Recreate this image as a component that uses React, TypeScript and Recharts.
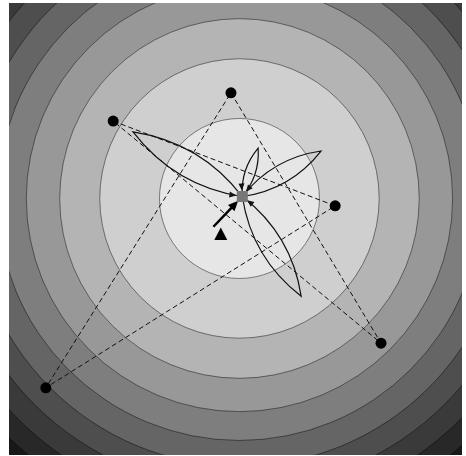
import React from 'react'
import { ScatterChart, Scatter, XAxis, YAxis, ZAxis, Cell, CartesianGrid } from 'recharts'

const X_DOMAIN: [number, number] = [-4, 4]
const Y_DOMAIN: [number, number] = [-4, 4]

// filled contours of f(x, y) = (x - cx)^2 + (y - cy)^2
const CONTOUR_CENTER = { x: 0.07, y: 0.54 }
const CONTOUR_LEVELS = [2.0, 6.1, 10.1, 14.2, 18.3, 22.4, 26.4, 30.5, 34.5]
// inner band first, last one is everything outside the highest level
const BAND_GRAYS = [230, 207, 180, 152, 126, 101, 78, 58, 40, 24]

const SWARM_POINTS = [
  { x: -0.08, y: 2.41 },
  { x: -2.16, y: 1.91 },
  { x: 1.76, y: 0.41 },
  { x: 2.57, y: -2.02 },
  { x: -3.35, y: -2.81 },
]
// order in which the dashed links join the points
const SWARM_LINKS = [0, 3, 1, 2, 4, 0]

const BEST_POINT = { x: 0.12, y: 0.575 }
const PETAL_TIPS = [
  { x: -1.81, y: 1.72 },
  { x: 0.4, y: 1.43 },
  { x: 1.51, y: 1.38 },
  { x: 1.16, y: -1.19 },
]
const STEP_START = { x: -0.39, y: 0.04 }
const START_POINT = { x: -0.26, y: -0.09 }

const WIDTH = 466
const HEIGHT = 456
const MARGIN = { top: 3, right: 4, bottom: 1, left: 9 }
const PLOT_W = WIDTH - MARGIN.left - MARGIN.right
const PLOT_H = HEIGHT - MARGIN.top - MARGIN.bottom
const PX_PER_UNIT =
  (PLOT_W / (X_DOMAIN[1] - X_DOMAIN[0]) + PLOT_H / (Y_DOMAIN[1] - Y_DOMAIN[0])) / 2
const Z_MAX = 40
const PETAL_BEND = 0.2

const gray = (v: number) => `rgb(${v},${v},${v})`

type Pt = { x: number; y: number }

function headPath(tip: Pt, from: Pt, len: number, half: number) {
  const dx = tip.x - from.x
  const dy = tip.y - from.y
  const d = Math.hypot(dx, dy) || 1
  const ux = dx / d
  const uy = dy / d
  const bx = tip.x - ux * len
  const by = tip.y - uy * len
  return `M${tip.x},${tip.y}L${bx - uy * half},${by + ux * half}L${bx + uy * half},${by - ux * half}Z`
}

function backOff(p: Pt, from: Pt, dist: number): Pt {
  const dx = p.x - from.x
  const dy = p.y - from.y
  const d = Math.hypot(dx, dy) || 1
  return { x: p.x - (dx / d) * dist, y: p.y - (dy / d) * dist }
}

function petalLine(props: any) {
  const pts: Pt[] = props.points
  if (!pts || pts.length < 2) return null
  const s = pts[0]
  const t = pts[1]
  const dx = t.x - s.x
  const dy = t.y - s.y
  const mx = (s.x + t.x) / 2
  const my = (s.y + t.y) / 2
  const back = { x: mx + PETAL_BEND * dy, y: my - PETAL_BEND * dx }
  const out = { x: mx - PETAL_BEND * dy, y: my + PETAL_BEND * dx }
  const tip = backOff(s, back, 6)
  return (
    <g>
      <path
        d={`M${s.x},${s.y}Q${out.x},${out.y} ${t.x},${t.y}Q${back.x},${back.y} ${s.x},${s.y}`}
        fill="none"
        stroke="#111"
        strokeWidth={1.2}
      />
      <path d={headPath(tip, back, 7, 3)} fill="#111" />
    </g>
  )
}

function stepLine(props: any) {
  const pts: Pt[] = props.points
  if (!pts || pts.length < 2) return null
  const [a, b] = pts
  const tip = backOff(b, a, 6)
  const base = backOff(tip, a, 8)
  return (
    <g>
      <line x1={a.x} y1={a.y} x2={base.x} y2={base.y} stroke="#000" strokeWidth={2.5} />
      <path d={headPath(tip, a, 10, 4.5)} fill="#000" />
    </g>
  )
}

const noMark = () => <g />

export default function App() {
  const ringData = CONTOUR_LEVELS.map((level, i) => ({ ...CONTOUR_CENTER, level, band: i })).reverse()
  const linkData = SWARM_LINKS.map(i => SWARM_POINTS[i])

  return (
    <div style={{ width: WIDTH, height: HEIGHT }}>
      <style>{'body{margin:0}'}</style>
      <ScatterChart width={WIDTH} height={HEIGHT} margin={MARGIN}>
        <CartesianGrid
          horizontal={false}
          vertical={false}
          fill={gray(BAND_GRAYS[BAND_GRAYS.length - 1])}
          stroke="none"
        />
        <XAxis type="number" dataKey="x" domain={X_DOMAIN} allowDataOverflow hide />
        <YAxis type="number" dataKey="y" domain={Y_DOMAIN} allowDataOverflow hide />
        <ZAxis
          zAxisId="lvl"
          type="number"
          dataKey="level"
          domain={[0, Z_MAX]}
          range={[0, Z_MAX * Math.PI * PX_PER_UNIT * PX_PER_UNIT]}
        />

        <Scatter
          data={ringData}
          zAxisId="lvl"
          shape="circle"
          stroke="rgba(0,0,0,0.45)"
          strokeWidth={1}
          isAnimationActive={false}
        >
          {ringData.map(d => (
            <Cell key={d.level} fill={gray(BAND_GRAYS[d.band])} />
          ))}
        </Scatter>

        <Scatter
          data={linkData}
          shape={noMark}
          line={{ stroke: '#111', strokeWidth: 1, strokeDasharray: '5 3' }}
          isAnimationActive={false}
        />

        {PETAL_TIPS.map((tip, i) => (
          <Scatter
            key={i}
            data={[BEST_POINT, tip]}
            shape={noMark}
            line={petalLine}
            isAnimationActive={false}
          />
        ))}

        <Scatter
          data={[STEP_START, BEST_POINT]}
          shape={noMark}
          line={stepLine}
          isAnimationActive={false}
        />

        <Scatter
          data={SWARM_POINTS}
          shape={(p: any) => <circle cx={p.cx} cy={p.cy} r={5.5} fill="#000" />}
          isAnimationActive={false}
        />
        <Scatter
          data={[START_POINT]}
          shape={(p: any) => (
            <polygon
              points={`${p.cx},${p.cy - 6.5} ${p.cx - 6.5},${p.cy + 6} ${p.cx + 6.5},${p.cy + 6}`}
              fill="#000"
            />
          )}
          isAnimationActive={false}
        />
        <Scatter
          data={[BEST_POINT]}
          shape={(p: any) => (
            <rect x={p.cx - 5.5} y={p.cy - 5.5} width={11} height={11} fill="#777" />
          )}
          isAnimationActive={false}
        />
      </ScatterChart>
    </div>
  )
}
